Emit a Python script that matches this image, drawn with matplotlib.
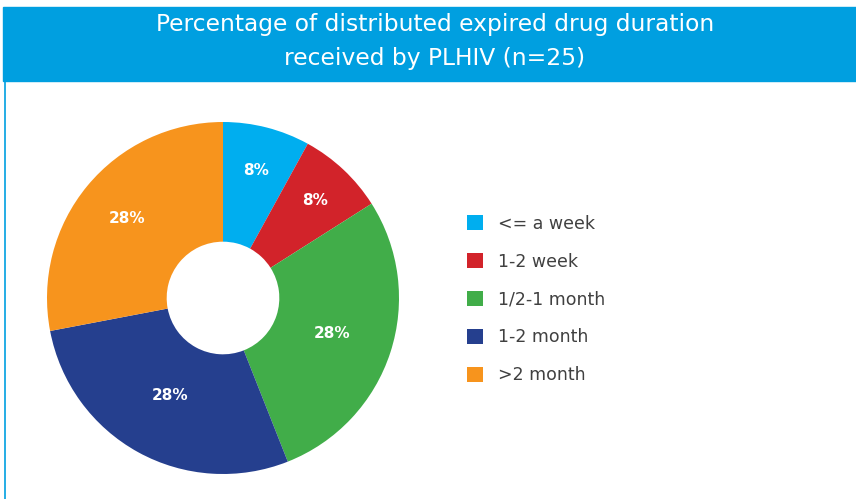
import numpy as np
import matplotlib.pyplot as plt
from matplotlib.patches import Rectangle, Patch
from matplotlib.lines import Line2D

categories = ["<= a week", "1-2 week", "1/2-1 month", "1-2 month", ">2 month"]
shares = [8, 8, 28, 28, 28]
colors = ["#00AEEF", "#D2232A", "#41AD49", "#253F8E", "#F7941D"]
title = "Percentage of distributed expired drug duration\nreceived by PLHIV (n=25)"

band_color = "#009FE0"
# how far out each percentage label sits (fraction of radius)
label_dist = [0.75, 0.76, 0.65, 0.63, 0.71]

fig = plt.figure(figsize=(8.56, 4.99), dpi=100)

# title band and left frame line
fig.patches.append(Rectangle((3 / 856, 1 - 81 / 499), 1, 74 / 499,
                             transform=fig.transFigure, color=band_color, zorder=0))
fig.lines.append(Line2D([4.5 / 856, 4.5 / 856], [0, 1 - 81 / 499],
                        transform=fig.transFigure, color=band_color, lw=1.2))
fig.text(435 / 856, 1 - 41.5 / 499, title, ha="center", va="center",
         color="white", fontsize=16.8, fontfamily="DejaVu Sans",
         linespacing=1.6, zorder=5)

# donut
ax = fig.add_axes([47 / 856, 25 / 499, 352 / 856, 352 / 499])
wedges, _, autotexts = ax.pie(
    shares, colors=colors, startangle=90, counterclock=False,
    autopct="%d%%", pctdistance=0.71,
    wedgeprops=dict(width=0.68, linewidth=0),
    textprops=dict(color="white", fontsize=11, fontweight="bold"),
)
for w, t, d in zip(wedges, autotexts, label_dist):
    ang = np.deg2rad((w.theta1 + w.theta2) / 2)
    t.set_position((d * np.cos(ang), d * np.sin(ang)))
ax.set_xlim(-1, 1)
ax.set_ylim(-1, 1)
ax.set_aspect("equal")

# legend
handles = [Patch(facecolor=c, edgecolor="none") for c in colors]
fig.legend(handles, categories, loc="center left",
           bbox_to_anchor=(451 / 856, 1 - 299.5 / 499), frameon=False,
           fontsize=12.5, handlelength=0.95, handleheight=0.95,
           handletextpad=0.85, labelspacing=1.15, labelcolor="#404040")

fig.savefig("out.png", dpi=100)
